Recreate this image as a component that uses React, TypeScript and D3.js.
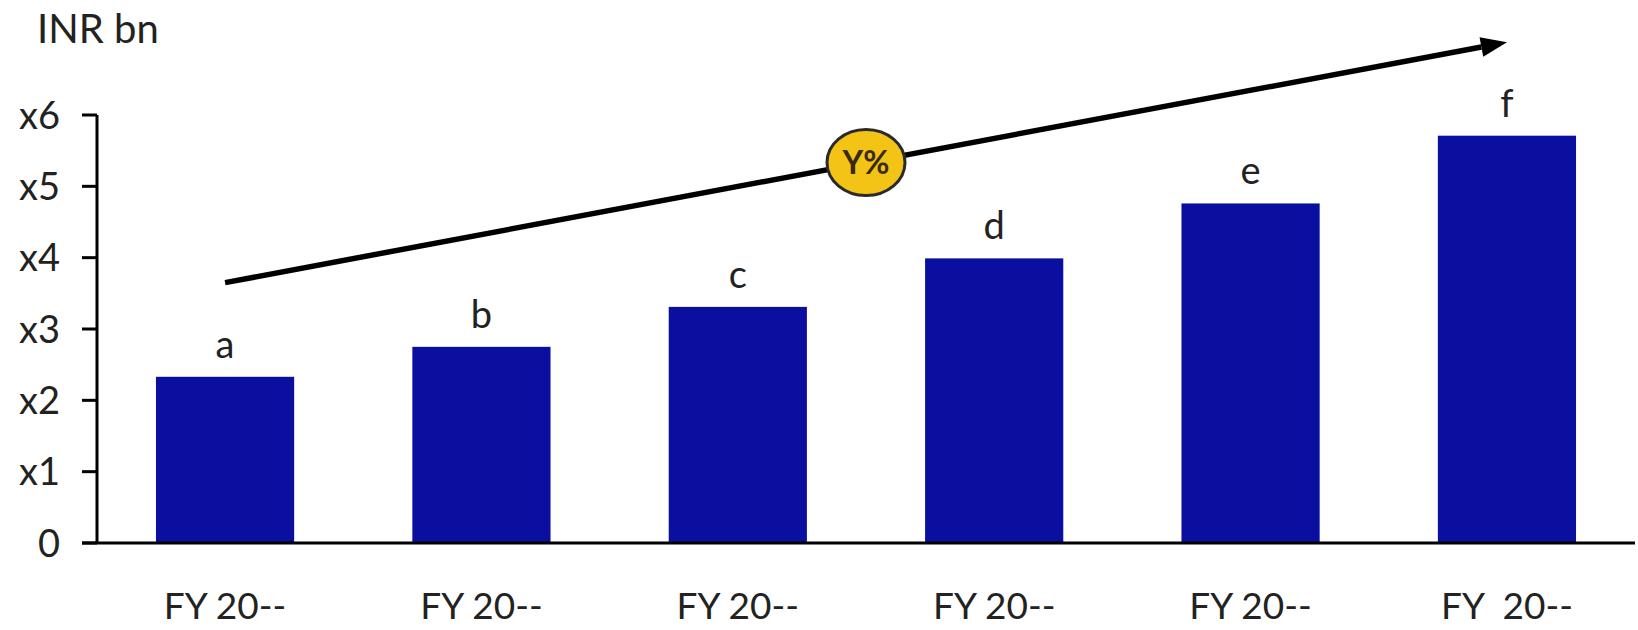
import React from "react";
import * as d3 from "d3";

const categories = ["FY 20--", "FY 20--", "FY 20--", "FY 20--", "FY 20--", "FY  20--"];
const valueLabels = ["a", "b", "c", "d", "e", "f"];
const values = [2.33, 2.75, 3.31, 3.99, 4.76, 5.71];
const yTicks = [0, 1, 2, 3, 4, 5, 6];
const yTickLabels = ["0", "x1", "x2", "x3", "x4", "x5", "x6"];
const unitLabel = "INR bn";
const growthLabel = "Y%";
const arrowFrom = 3.65; // arrow start level (value units) at first bar
const arrowTo = 7.02; // arrow end level (value units) at last bar

const W = 1638;
const H = 630;
const FONT = "Lato, 'Open Sans', sans-serif";

export default function App() {
  const axisX = 97;
  const baseY = 543;
  const x = d3
    .scaleBand<number>()
    .domain(d3.range(categories.length))
    .range([axisX, 1635])
    .paddingInner(0.461)
    .paddingOuter(0.23);
  const y = d3.scaleLinear().domain([0, 6]).range([baseY, 115]);
  const bw = x.bandwidth();
  const cx = (i: number) => (x(i) as number) + bw / 2;

  const x0 = cx(0);
  const y0 = y(arrowFrom);
  const x1 = cx(categories.length - 1);
  const y1 = y(arrowTo);
  const ang = Math.atan2(y1 - y0, x1 - x0);
  const headLen = 26;
  const headHalf = 10;
  const bx = x1 - headLen * Math.cos(ang);
  const by = y1 - headLen * Math.sin(ang);
  const px = -Math.sin(ang);
  const py = Math.cos(ang);
  const head = [
    [x1, y1],
    [bx + px * headHalf, by + py * headHalf],
    [bx - px * headHalf, by - py * headHalf],
  ];
  const mx = (x0 + x1) / 2;
  const my = (y0 + y1) / 2;

  return (
    <div style={{ position: "absolute", left: 0, top: 0 }}>
      <svg width={W} height={H} style={{ display: "block", background: "#fff" }}>
        <text x={37} y={43} fontFamily={FONT} fontSize={40} fill="#222">
          {unitLabel}
        </text>

        {values.map((v, i) => (
          <rect key={"b" + i} x={x(i)} y={y(v)} width={bw} height={baseY - y(v)} fill="#0a0fa0" />
        ))}

        {values.map((v, i) => (
          <text
            key={"v" + i}
            x={cx(i)}
            y={y(v) - 19}
            textAnchor="middle"
            fontFamily={FONT}
            fontSize={38}
            fill="#222"
          >
            {valueLabels[i]}
          </text>
        ))}

        {/* y axis */}
        <line x1={axisX} y1={y(6)} x2={axisX} y2={baseY} stroke="#000" strokeWidth={3} />
        {yTicks.map((t, i) => (
          <g key={"t" + i}>
            <line x1={82} x2={axisX} y1={y(t)} y2={y(t)} stroke="#000" strokeWidth={3} />
            <text
              x={60}
              y={y(t)}
              dy="0.36em"
              textAnchor="end"
              fontFamily={FONT}
              fontSize={38}
              fill="#222"
            >
              {yTickLabels[i]}
            </text>
          </g>
        ))}

        {/* x axis */}
        <line x1={82} y1={baseY} x2={1635} y2={baseY} stroke="#000" strokeWidth={3} />
        {categories.map((c, i) => (
          <text
            key={"c" + i}
            x={cx(i)}
            y={619}
            textAnchor="middle"
            fontFamily={FONT}
            fontSize={37}
            fill="#222"
            style={{ whiteSpace: "pre" }}
          >
            {c}
          </text>
        ))}

        {/* growth arrow */}
        <line x1={x0} y1={y0} x2={bx} y2={by} stroke="#000" strokeWidth={5.5} />
        <polygon points={head.map((p) => p.join(",")).join(" ")} fill="#000" />
        <ellipse cx={mx} cy={my} rx={39} ry={33} fill="#f3c416" stroke="#2a2a2a" strokeWidth={3} />
        <text
          x={mx}
          y={my}
          dy="0.36em"
          textAnchor="middle"
          fontFamily={FONT}
          fontSize={32}
          fontWeight="bold"
          fill="#3a2a05"
        >
          {growthLabel}
        </text>
      </svg>
    </div>
  );
}
